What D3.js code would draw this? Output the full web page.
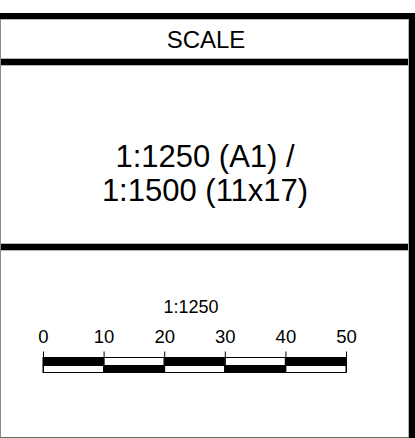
<!DOCTYPE html>
<html>
<head>
<meta charset="utf-8">
<script src="https://cdn.jsdelivr.net/npm/d3@7"></script>
<style>
  html, body { margin: 0; padding: 0; background: #fff; }
  svg { display: block; }
  text { font-family: "Liberation Sans", Arial, sans-serif; fill: #000; }
</style>
</head>
<body>
<div id="scaleBox"></div>
<script>
// Text content
const titleText = "SCALE";
const ratioLines = ["1:1250 (A1) /", "1:1500 (11x17)"];
const barLabel = "1:1250";

// Scale bar (metres)
const barTicks = [0, 10, 20, 30, 40, 50];
const upperFilled = [true, false, true, false, true];
const lowerFilled = [false, true, false, true, false];

const width = 415;
const height = 438;

const svg = d3.select("#scaleBox")
  .append("svg")
  .attr("width", width)
  .attr("height", height);

// Frame: thick black bands, thin grey cut edges
const band = 6;
const frameRight = 409;
const dividers = [13, 59, 244];

svg.selectAll("rect.band")
  .data(dividers)
  .enter()
  .append("rect")
  .attr("class", "band")
  .attr("x", 0)
  .attr("y", d => d)
  .attr("width", frameRight)
  .attr("height", band)
  .attr("fill", "#000");

svg.append("rect")
  .attr("x", frameRight)
  .attr("y", dividers[0])
  .attr("width", width - frameRight)
  .attr("height", height - dividers[0])
  .attr("fill", "#000");

// soft edges next to the bands
dividers.forEach((y, i) => {
  if (i > 0) {
    svg.append("line")
      .attr("x1", 0).attr("x2", frameRight)
      .attr("y1", y - 0.5).attr("y2", y - 0.5)
      .attr("stroke", "#b5b5b5");
  }
  svg.append("line")
    .attr("x1", 0).attr("x2", frameRight)
    .attr("y1", y + band + 0.5).attr("y2", y + band + 0.5)
    .attr("stroke", "#b5b5b5");
});
svg.append("line")
  .attr("x1", frameRight - 0.5).attr("x2", frameRight - 0.5)
  .attr("y1", dividers[0] + band).attr("y2", height)
  .attr("stroke", "#b5b5b5");

svg.append("line")
  .attr("x1", 0.5).attr("x2", 0.5)
  .attr("y1", dividers[0] + band).attr("y2", height)
  .attr("stroke", "#8a8a8a");
svg.append("line")
  .attr("x1", 0).attr("x2", frameRight)
  .attr("y1", height - 0.5).attr("y2", height - 0.5)
  .attr("stroke", "#6a6a6a");

// Title
svg.append("text")
  .attr("x", 206)
  .attr("y", 48)
  .attr("text-anchor", "middle")
  .attr("font-size", 24)
  .text(titleText);

// Ratio text
svg.selectAll("text.ratio")
  .data(ratioLines)
  .enter()
  .append("text")
  .attr("class", "ratio")
  .attr("x", 205)
  .attr("y", (d, i) => 167 + i * 34)
  .attr("text-anchor", "middle")
  .attr("font-size", 31)
  .text(d => d);

// Scale bar
const x = d3.scaleLinear()
  .domain([barTicks[0], barTicks[barTicks.length - 1]])
  .range([43, 346]);

const barTop = 357;
const barMid = 365;
const barBottom = 372;

svg.append("text")
  .attr("x", 191)
  .attr("y", 313)
  .attr("text-anchor", "middle")
  .attr("font-size", 18)
  .text(barLabel);

const segments = barTicks.slice(0, -1).map((t, i) => ({
  from: t,
  to: barTicks[i + 1],
  upper: upperFilled[i],
  lower: lowerFilled[i]
}));

const bar = svg.append("g");

bar.selectAll("rect.upper")
  .data(segments)
  .enter()
  .append("rect")
  .attr("class", "upper")
  .attr("x", d => x(d.from))
  .attr("y", barTop + 0.5)
  .attr("width", d => x(d.to) - x(d.from))
  .attr("height", barMid - barTop)
  .attr("fill", d => d.upper ? "#000" : "#fff")
  .attr("stroke", "#000")
  .attr("stroke-width", 1);

bar.selectAll("rect.lower")
  .data(segments)
  .enter()
  .append("rect")
  .attr("class", "lower")
  .attr("x", d => x(d.from))
  .attr("y", barMid + 0.5)
  .attr("width", d => x(d.to) - x(d.from))
  .attr("height", barBottom - barMid)
  .attr("fill", d => d.lower ? "#000" : "#fff")
  .attr("stroke", "#000")
  .attr("stroke-width", 1);

const axis = d3.axisTop(x)
  .tickValues(barTicks)
  .tickFormat(d3.format("d"))
  .tickSize(barBottom - 351)
  .tickPadding(9);

const axisG = svg.append("g")
  .attr("transform", `translate(0,${barBottom + 0.5})`)
  .call(axis);

axisG.select(".domain").remove();
axisG.selectAll(".tick line").attr("stroke", "#000");
axisG.selectAll(".tick text")
  .attr("font-family", "Liberation Sans, Arial, sans-serif")
  .attr("font-size", 18.5)
  .attr("fill", "#000");
</script>
</body>
</html>
